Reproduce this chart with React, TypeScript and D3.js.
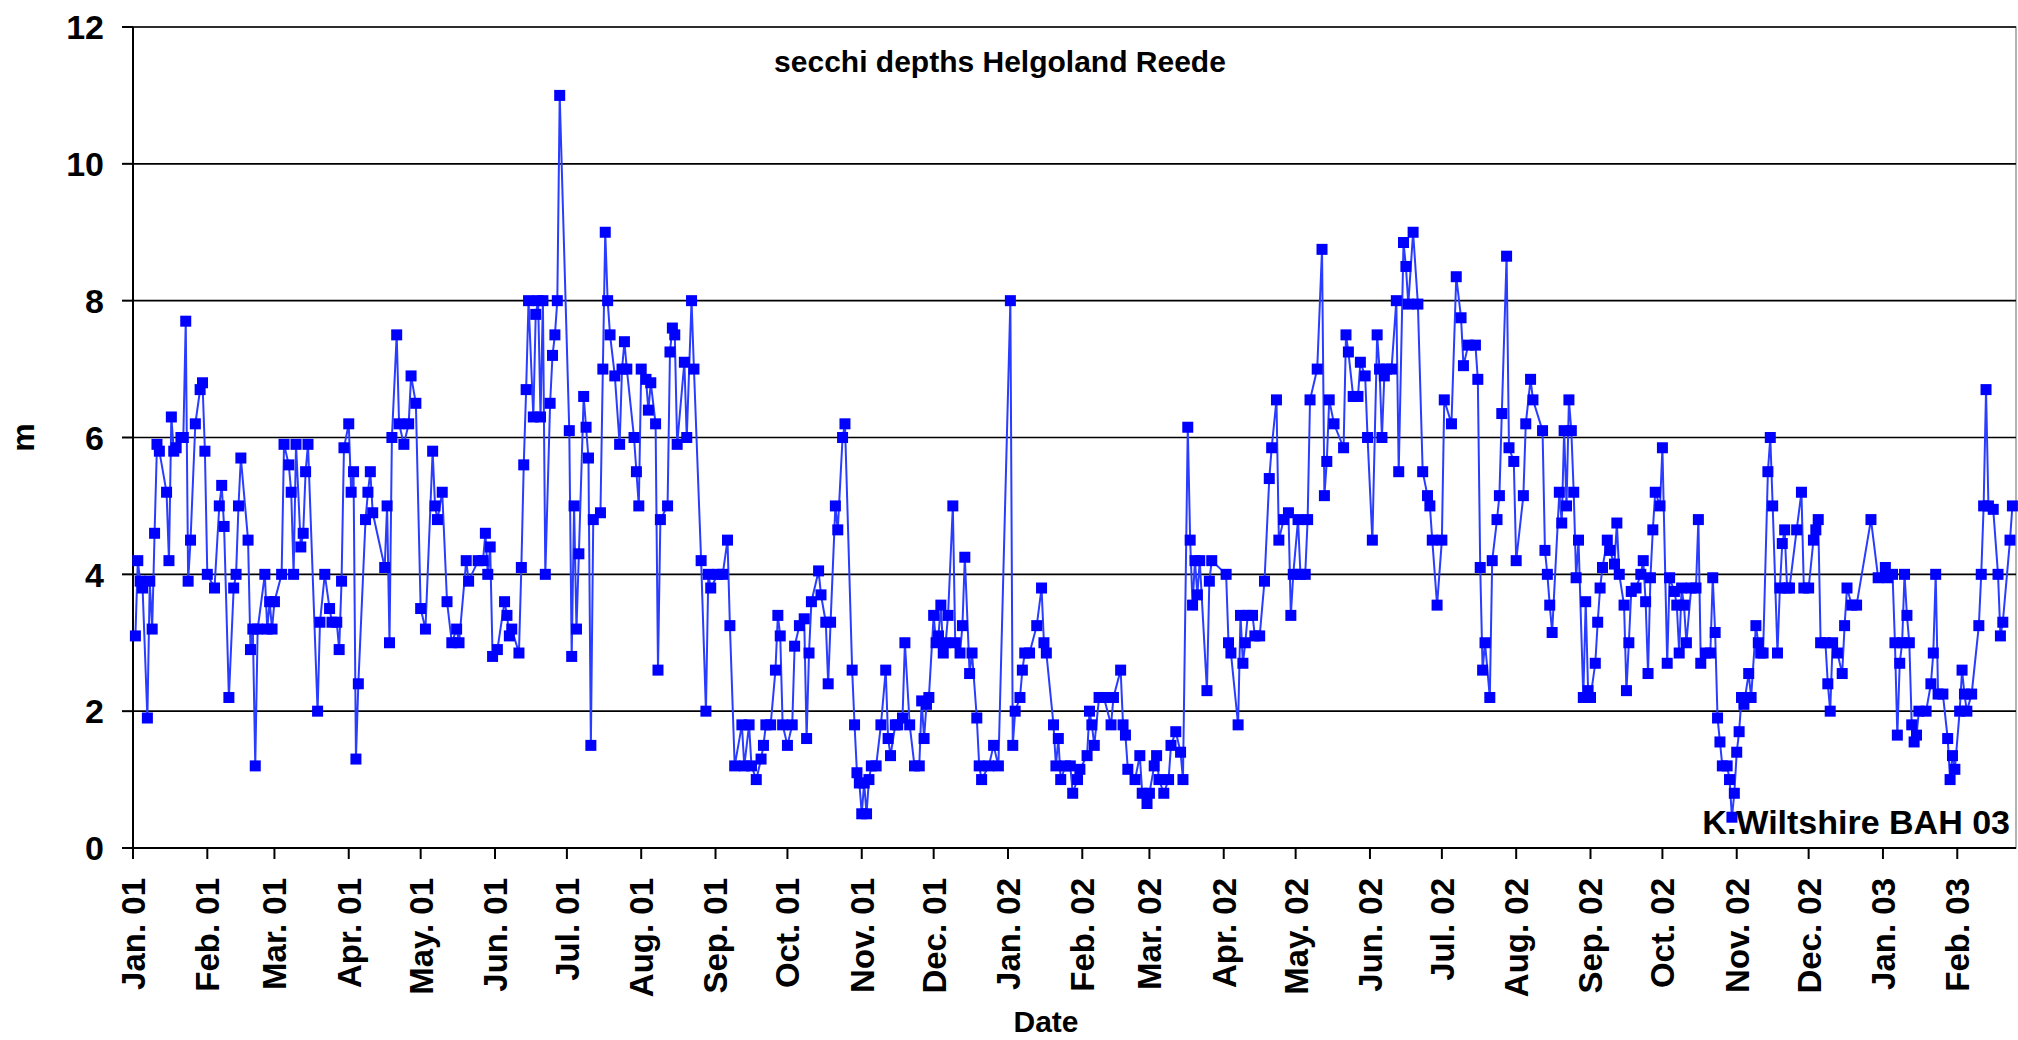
import React from 'react';
import * as d3 from 'd3';

// secchi depth readings at Helgoland Reede, metres
const secchi2001a: [string, number][] = [
  ['2001-01-02', 3.1], ['2001-01-03', 4.2], ['2001-01-04', 3.9], ['2001-01-05', 3.8], ['2001-01-07', 1.9],
  ['2001-01-08', 3.9], ['2001-01-09', 3.2], ['2001-01-10', 4.6], ['2001-01-11', 5.9], ['2001-01-12', 5.8],
  ['2001-01-15', 5.2], ['2001-01-16', 4.2], ['2001-01-17', 6.3], ['2001-01-18', 5.8], ['2001-01-19', 5.85],
  ['2001-01-21', 6.0], ['2001-01-22', 6.0], ['2001-01-23', 7.7], ['2001-01-24', 3.9], ['2001-01-25', 4.5],
  ['2001-01-27', 6.2], ['2001-01-29', 6.7], ['2001-01-30', 6.8], ['2001-01-31', 5.8],
  ['2001-02-01', 4.0], ['2001-02-04', 3.8], ['2001-02-06', 5.0], ['2001-02-07', 5.3], ['2001-02-08', 4.7],
  ['2001-02-10', 2.2], ['2001-02-12', 3.8], ['2001-02-13', 4.0], ['2001-02-14', 5.0], ['2001-02-15', 5.7],
  ['2001-02-18', 4.5], ['2001-02-19', 2.9], ['2001-02-20', 3.2], ['2001-02-21', 1.2], ['2001-02-22', 3.2],
  ['2001-02-25', 4.0], ['2001-02-26', 3.2], ['2001-02-27', 3.6], ['2001-02-28', 3.2],
  ['2001-03-01', 3.6], ['2001-03-04', 4.0], ['2001-03-05', 5.9], ['2001-03-07', 5.6], ['2001-03-08', 5.2],
  ['2001-03-09', 4.0], ['2001-03-10', 5.9], ['2001-03-12', 4.4], ['2001-03-13', 4.6], ['2001-03-14', 5.5],
  ['2001-03-15', 5.9], ['2001-03-19', 2.0], ['2001-03-20', 3.3], ['2001-03-22', 4.0], ['2001-03-24', 3.5],
  ['2001-03-25', 3.3], ['2001-03-27', 3.3], ['2001-03-28', 2.9], ['2001-03-29', 3.9], ['2001-03-30', 5.85],
  ['2001-04-01', 6.2], ['2001-04-02', 5.2], ['2001-04-03', 5.5], ['2001-04-04', 1.3], ['2001-04-05', 2.4],
  ['2001-04-08', 4.8], ['2001-04-09', 5.2], ['2001-04-10', 5.5], ['2001-04-11', 4.9], ['2001-04-16', 4.1],
  ['2001-04-17', 5.0], ['2001-04-18', 3.0], ['2001-04-19', 6.0], ['2001-04-21', 7.5], ['2001-04-22', 6.2],
  ['2001-04-24', 5.9], ['2001-04-26', 6.2], ['2001-04-27', 6.9], ['2001-04-29', 6.5],
  ['2001-05-01', 3.5], ['2001-05-03', 3.2], ['2001-05-06', 5.8], ['2001-05-07', 5.0], ['2001-05-08', 4.8],
  ['2001-05-10', 5.2], ['2001-05-12', 3.6], ['2001-05-14', 3.0], ['2001-05-16', 3.2], ['2001-05-17', 3.0],
  ['2001-05-20', 4.2], ['2001-05-21', 3.9], ['2001-05-25', 4.2], ['2001-05-27', 4.2], ['2001-05-28', 4.6],
  ['2001-05-29', 4.0], ['2001-05-30', 4.4], ['2001-05-31', 2.8],
  ['2001-06-02', 2.9], ['2001-06-05', 3.6], ['2001-06-06', 3.4], ['2001-06-07', 3.1], ['2001-06-08', 3.2],
  ['2001-06-11', 2.85], ['2001-06-12', 4.1], ['2001-06-13', 5.6], ['2001-06-14', 6.7], ['2001-06-15', 8.0],
  ['2001-06-17', 6.3], ['2001-06-18', 7.8], ['2001-06-19', 8.0], ['2001-06-20', 6.3], ['2001-06-21', 8.0],
  ['2001-06-22', 4.0], ['2001-06-24', 6.5], ['2001-06-25', 7.2], ['2001-06-26', 7.5], ['2001-06-27', 8.0],
  ['2001-06-28', 11.0],
];

const secchi2001b: [string, number][] = [
  ['2001-07-02', 6.1], ['2001-07-03', 2.8], ['2001-07-04', 5.0], ['2001-07-05', 3.2], ['2001-07-06', 4.3],
  ['2001-07-08', 6.6], ['2001-07-09', 6.15], ['2001-07-10', 5.7], ['2001-07-11', 1.5], ['2001-07-12', 4.8],
  ['2001-07-15', 4.9], ['2001-07-16', 7.0], ['2001-07-17', 9.0], ['2001-07-18', 8.0], ['2001-07-19', 7.5],
  ['2001-07-21', 6.9], ['2001-07-23', 5.9], ['2001-07-24', 7.0], ['2001-07-25', 7.4], ['2001-07-26', 7.0],
  ['2001-07-29', 6.0], ['2001-07-30', 5.5], ['2001-07-31', 5.0],
  ['2001-08-01', 7.0], ['2001-08-03', 6.85], ['2001-08-04', 6.4], ['2001-08-05', 6.8], ['2001-08-07', 6.2],
  ['2001-08-08', 2.6], ['2001-08-09', 4.8], ['2001-08-12', 5.0], ['2001-08-13', 7.25], ['2001-08-14', 7.6],
  ['2001-08-15', 7.5], ['2001-08-16', 5.9], ['2001-08-19', 7.1], ['2001-08-20', 6.0], ['2001-08-22', 8.0],
  ['2001-08-23', 7.0], ['2001-08-26', 4.2], ['2001-08-28', 2.0], ['2001-08-29', 4.0], ['2001-08-30', 3.8],
  ['2001-09-02', 4.0], ['2001-09-04', 4.0], ['2001-09-06', 4.5], ['2001-09-07', 3.25], ['2001-09-09', 1.2],
  ['2001-09-12', 1.8], ['2001-09-13', 1.2], ['2001-09-15', 1.8], ['2001-09-16', 1.2], ['2001-09-18', 1.0],
  ['2001-09-20', 1.3], ['2001-09-21', 1.5], ['2001-09-22', 1.8], ['2001-09-24', 1.8], ['2001-09-26', 2.6],
  ['2001-09-27', 3.4], ['2001-09-28', 3.1], ['2001-09-29', 1.8],
  ['2001-10-01', 1.5], ['2001-10-03', 1.8], ['2001-10-04', 2.95], ['2001-10-06', 3.25], ['2001-10-08', 3.35],
  ['2001-10-09', 1.6], ['2001-10-10', 2.85], ['2001-10-11', 3.6], ['2001-10-14', 4.05], ['2001-10-15', 3.7],
  ['2001-10-17', 3.3], ['2001-10-18', 2.4], ['2001-10-19', 3.3], ['2001-10-21', 5.0], ['2001-10-22', 4.65],
  ['2001-10-24', 6.0], ['2001-10-25', 6.2], ['2001-10-28', 2.6], ['2001-10-29', 1.8], ['2001-10-30', 1.1],
  ['2001-10-31', 0.95],
  ['2001-11-01', 0.5], ['2001-11-02', 0.95], ['2001-11-03', 0.5], ['2001-11-04', 1.0], ['2001-11-05', 1.2],
  ['2001-11-07', 1.2], ['2001-11-09', 1.8], ['2001-11-11', 2.6], ['2001-11-12', 1.6], ['2001-11-13', 1.35],
  ['2001-11-15', 1.8], ['2001-11-16', 1.8], ['2001-11-18', 1.9], ['2001-11-19', 3.0], ['2001-11-21', 1.8],
  ['2001-11-23', 1.2], ['2001-11-25', 1.2], ['2001-11-26', 2.15], ['2001-11-27', 1.6], ['2001-11-28', 2.1],
  ['2001-11-29', 2.2],
  ['2001-12-01', 3.4], ['2001-12-02', 3.0], ['2001-12-03', 3.1], ['2001-12-04', 3.55], ['2001-12-05', 2.85],
  ['2001-12-06', 3.0], ['2001-12-07', 3.4], ['2001-12-09', 5.0], ['2001-12-10', 3.0], ['2001-12-12', 2.85],
  ['2001-12-13', 3.25], ['2001-12-14', 4.25], ['2001-12-16', 2.55], ['2001-12-17', 2.85], ['2001-12-19', 1.9],
  ['2001-12-20', 1.2], ['2001-12-21', 1.0], ['2001-12-24', 1.2], ['2001-12-26', 1.5], ['2001-12-28', 1.2],
];

const secchi2002a: [string, number][] = [
  ['2002-01-02', 8.0], ['2002-01-03', 1.5], ['2002-01-04', 2.0], ['2002-01-06', 2.2], ['2002-01-07', 2.6],
  ['2002-01-08', 2.85], ['2002-01-10', 2.85], ['2002-01-13', 3.25], ['2002-01-15', 3.8], ['2002-01-16', 3.0],
  ['2002-01-17', 2.85], ['2002-01-20', 1.8], ['2002-01-21', 1.2], ['2002-01-22', 1.6], ['2002-01-23', 1.0],
  ['2002-01-25', 1.2], ['2002-01-27', 1.2], ['2002-01-28', 0.8], ['2002-01-30', 1.0], ['2002-01-31', 1.15],
  ['2002-02-03', 1.35], ['2002-02-04', 2.0], ['2002-02-05', 1.8], ['2002-02-06', 1.5], ['2002-02-08', 2.2],
  ['2002-02-10', 2.2], ['2002-02-13', 1.8], ['2002-02-14', 2.2], ['2002-02-17', 2.6], ['2002-02-18', 1.8],
  ['2002-02-19', 1.65], ['2002-02-20', 1.15], ['2002-02-23', 1.0], ['2002-02-25', 1.35], ['2002-02-26', 0.8],
  ['2002-02-28', 0.65],
  ['2002-03-01', 0.8], ['2002-03-03', 1.2], ['2002-03-04', 1.35], ['2002-03-05', 1.0], ['2002-03-07', 0.8],
  ['2002-03-09', 1.0], ['2002-03-10', 1.5], ['2002-03-12', 1.7], ['2002-03-14', 1.4], ['2002-03-15', 1.0],
  ['2002-03-17', 6.15], ['2002-03-18', 4.5], ['2002-03-19', 3.55], ['2002-03-20', 4.2], ['2002-03-21', 3.7],
  ['2002-03-22', 4.2], ['2002-03-25', 2.3], ['2002-03-26', 3.9], ['2002-03-27', 4.2],
  ['2002-04-02', 4.0], ['2002-04-03', 3.0], ['2002-04-04', 2.85], ['2002-04-07', 1.8], ['2002-04-08', 3.4],
  ['2002-04-09', 2.7], ['2002-04-10', 3.0], ['2002-04-11', 3.4], ['2002-04-13', 3.4], ['2002-04-14', 3.1],
  ['2002-04-16', 3.1], ['2002-04-18', 3.9], ['2002-04-20', 5.4], ['2002-04-21', 5.85], ['2002-04-23', 6.55],
  ['2002-04-24', 4.5], ['2002-04-26', 4.8], ['2002-04-28', 4.9], ['2002-04-29', 3.4], ['2002-04-30', 4.0],
  ['2002-05-02', 4.8], ['2002-05-03', 4.0], ['2002-05-05', 4.0], ['2002-05-06', 4.8], ['2002-05-07', 6.55],
  ['2002-05-10', 7.0], ['2002-05-12', 8.75], ['2002-05-13', 5.15], ['2002-05-14', 5.65], ['2002-05-15', 6.55],
  ['2002-05-17', 6.2], ['2002-05-21', 5.85], ['2002-05-22', 7.5], ['2002-05-23', 7.25], ['2002-05-25', 6.6],
  ['2002-05-27', 6.6], ['2002-05-28', 7.1], ['2002-05-30', 6.9], ['2002-05-31', 6.0],
  ['2002-06-02', 4.5], ['2002-06-04', 7.5], ['2002-06-05', 7.0], ['2002-06-06', 6.0], ['2002-06-07', 6.9],
  ['2002-06-08', 7.0], ['2002-06-10', 7.0], ['2002-06-12', 8.0], ['2002-06-13', 5.5], ['2002-06-15', 8.85],
  ['2002-06-16', 8.5], ['2002-06-17', 7.95], ['2002-06-19', 9.0], ['2002-06-21', 7.95], ['2002-06-23', 5.5],
  ['2002-06-25', 5.15], ['2002-06-26', 5.0], ['2002-06-27', 4.5], ['2002-06-29', 3.55],
];

const secchi2002b: [string, number][] = [
  ['2002-07-01', 4.5], ['2002-07-02', 6.55], ['2002-07-05', 6.2], ['2002-07-07', 8.35], ['2002-07-09', 7.75],
  ['2002-07-10', 7.05], ['2002-07-12', 7.35], ['2002-07-15', 7.35], ['2002-07-16', 6.85], ['2002-07-17', 4.1],
  ['2002-07-18', 2.6], ['2002-07-19', 3.0], ['2002-07-21', 2.2], ['2002-07-22', 4.2], ['2002-07-24', 4.8],
  ['2002-07-25', 5.15], ['2002-07-26', 6.35], ['2002-07-28', 8.65], ['2002-07-29', 5.85], ['2002-07-31', 5.65],
  ['2002-08-01', 4.2], ['2002-08-04', 5.15], ['2002-08-05', 6.2], ['2002-08-07', 6.85], ['2002-08-08', 6.55],
  ['2002-08-12', 6.1], ['2002-08-13', 4.35], ['2002-08-14', 4.0], ['2002-08-15', 3.55], ['2002-08-16', 3.15],
  ['2002-08-19', 5.2], ['2002-08-20', 4.75], ['2002-08-21', 6.1], ['2002-08-22', 5.0], ['2002-08-23', 6.55],
  ['2002-08-24', 6.1], ['2002-08-25', 5.2], ['2002-08-26', 3.95], ['2002-08-27', 4.5], ['2002-08-29', 2.2],
  ['2002-08-30', 3.6], ['2002-08-31', 2.3],
  ['2002-09-01', 2.2], ['2002-09-03', 2.7], ['2002-09-04', 3.3], ['2002-09-05', 3.8], ['2002-09-06', 4.1],
  ['2002-09-08', 4.5], ['2002-09-09', 4.35], ['2002-09-11', 4.15], ['2002-09-12', 4.75], ['2002-09-13', 4.0],
  ['2002-09-15', 3.55], ['2002-09-16', 2.3], ['2002-09-17', 3.0], ['2002-09-18', 3.75], ['2002-09-20', 3.8],
  ['2002-09-22', 4.0], ['2002-09-23', 4.2], ['2002-09-24', 3.6], ['2002-09-25', 2.55], ['2002-09-26', 3.95],
  ['2002-09-27', 4.65], ['2002-09-28', 5.2], ['2002-09-30', 5.0],
  ['2002-10-01', 5.85], ['2002-10-03', 2.7], ['2002-10-04', 3.95], ['2002-10-06', 3.75], ['2002-10-07', 3.55],
  ['2002-10-08', 2.85], ['2002-10-09', 3.8], ['2002-10-10', 3.55], ['2002-10-11', 3.0], ['2002-10-13', 3.8],
  ['2002-10-15', 3.8], ['2002-10-16', 4.8], ['2002-10-17', 2.7], ['2002-10-19', 2.85], ['2002-10-21', 2.85],
  ['2002-10-22', 3.95], ['2002-10-23', 3.15], ['2002-10-24', 1.9], ['2002-10-25', 1.55], ['2002-10-26', 1.2],
  ['2002-10-28', 1.2], ['2002-10-29', 1.0], ['2002-10-30', 0.45], ['2002-10-31', 0.8],
  ['2002-11-01', 1.4], ['2002-11-02', 1.7], ['2002-11-03', 2.2], ['2002-11-04', 2.1], ['2002-11-06', 2.55],
  ['2002-11-07', 2.2], ['2002-11-09', 3.25], ['2002-11-10', 3.0], ['2002-11-11', 2.85], ['2002-11-12', 2.85],
  ['2002-11-14', 5.5], ['2002-11-15', 6.0], ['2002-11-16', 5.0], ['2002-11-18', 2.85], ['2002-11-19', 3.8],
  ['2002-11-20', 4.45], ['2002-11-21', 4.65], ['2002-11-22', 3.8], ['2002-11-23', 3.8], ['2002-11-26', 4.65],
  ['2002-11-28', 5.2], ['2002-11-29', 3.8],
  ['2002-12-01', 3.8], ['2002-12-03', 4.5], ['2002-12-04', 4.65], ['2002-12-05', 4.8], ['2002-12-06', 3.0],
  ['2002-12-08', 3.0], ['2002-12-09', 2.4], ['2002-12-10', 2.0], ['2002-12-11', 3.0], ['2002-12-13', 2.85],
  ['2002-12-15', 2.55], ['2002-12-16', 3.25], ['2002-12-17', 3.8], ['2002-12-19', 3.55], ['2002-12-21', 3.55],
  ['2002-12-27', 4.8], ['2002-12-30', 3.95],
];

const secchi2003: [string, number][] = [
  ['2003-01-02', 4.1], ['2003-01-03', 3.95], ['2003-01-05', 4.0], ['2003-01-06', 3.0], ['2003-01-07', 1.65],
  ['2003-01-08', 2.7], ['2003-01-09', 3.0], ['2003-01-10', 4.0], ['2003-01-11', 3.4], ['2003-01-12', 3.0],
  ['2003-01-13', 1.8], ['2003-01-14', 1.55], ['2003-01-15', 1.65], ['2003-01-16', 2.0], ['2003-01-19', 2.0],
  ['2003-01-21', 2.4], ['2003-01-22', 2.85], ['2003-01-23', 4.0], ['2003-01-24', 2.25], ['2003-01-26', 2.25],
  ['2003-01-28', 1.6], ['2003-01-29', 1.0], ['2003-01-30', 1.35], ['2003-01-31', 1.15],
  ['2003-02-02', 2.0], ['2003-02-03', 2.6], ['2003-02-04', 2.25], ['2003-02-05', 2.0], ['2003-02-07', 2.25],
  ['2003-02-10', 3.25], ['2003-02-11', 4.0], ['2003-02-12', 5.0], ['2003-02-13', 6.7], ['2003-02-14', 5.0],
  ['2003-02-16', 4.95], ['2003-02-18', 4.0], ['2003-02-19', 3.1], ['2003-02-20', 3.3], ['2003-02-23', 4.5],
  ['2003-02-24', 5.0],
];

const yTicks = [0, 2, 4, 6, 8, 10, 12];
const chartTitle = 'secchi depths Helgoland Reede';
const creditText = 'K.Wiltshire BAH 03';

const width = 2018;
const height = 1040;
const margin = {top: 27, right: 2, bottom: 192, left: 133};
const font = '"Liberation Sans", Arial, Helvetica, sans-serif';

function SecchiChart() {
  const parse = d3.utcParse('%Y-%m-%d');
  const data = [...secchi2001a, ...secchi2001b, ...secchi2002a, ...secchi2002b, ...secchi2003]
    .map(([d, v]) => ({date: parse(d) as Date, value: v}));

  const start = new Date(Date.UTC(2001, 0, 1));
  const end = new Date(Date.UTC(2003, 1, 25, 12));

  const x = d3.scaleUtc().domain([start, end]).range([margin.left, width - margin.right]);
  const y = d3.scaleLinear().domain([0, 12]).range([height - margin.bottom, margin.top]);

  const months = d3.utcMonth.range(start, end);
  const fmt = d3.utcFormat('%b. %y');

  const line = d3.line<{date: Date, value: number}>()
    .x((d) => x(d.date))
    .y((d) => y(d.value));

  const x0 = margin.left;
  const x1 = width - margin.right;
  const yBase = y(0);
  const mk = 11;

  return (
    <svg width={width} height={height} style={{display: 'block', background: '#fff'}}>
      {/* plot area border */}
      <rect x={x0} y={y(12)} width={x1 - x0} height={yBase - y(12)} fill="#fff" stroke="#9a9a9a" strokeWidth={1.5}/>

      {/* gridlines */}
      {yTicks.filter((t) => t > 0).map((t) => (
        <line key={'g' + t} x1={x0} x2={x1} y1={y(t)} y2={y(t)} stroke="#000" strokeWidth={1.6}/>
      ))}

      {/* y axis */}
      <line x1={x0} x2={x0} y1={y(12)} y2={yBase} stroke="#000" strokeWidth={2}/>
      {yTicks.map((t) => (
        <g key={'yt' + t}>
          <line x1={x0 - 11} x2={x0} y1={y(t)} y2={y(t)} stroke="#000" strokeWidth={2}/>
          <text x={104} y={y(t)} dy="0.36em" textAnchor="end" fontFamily={font} fontWeight="bold" fontSize={34}>{t}</text>
        </g>
      ))}

      {/* x axis */}
      <line x1={x0 - 11} x2={x1} y1={yBase} y2={yBase} stroke="#000" strokeWidth={2}/>
      {months.map((m) => (
        <g key={'xt' + m.getTime()}>
          <line x1={x(m)} x2={x(m)} y1={yBase} y2={yBase + 11} stroke="#000" strokeWidth={2}/>
          <text transform={`translate(${x(m)}, ${yBase + 30}) rotate(-90)`} dy="0.36em" textAnchor="end"
                fontFamily={font} fontWeight="bold" fontSize={33}>{fmt(m)}</text>
        </g>
      ))}

      {/* series */}
      <path d={line(data) || ''} fill="none" stroke="#2a3cff" strokeWidth={2}/>
      {data.map((d, i) => (
        <rect key={i} x={x(d.date) - mk / 2} y={y(d.value) - mk / 2} width={mk} height={mk} fill="#0000ff"/>
      ))}

      {/* labels */}
      <text x={1000} y={72} textAnchor="middle" fontFamily={font} fontWeight="bold" fontSize={30}>{chartTitle}</text>
      <text x={2010} y={834} textAnchor="end" fontFamily={font} fontWeight="bold" fontSize={34}>{creditText}</text>
      <text x={1046} y={1032} textAnchor="middle" fontFamily={font} fontWeight="bold" fontSize={30}>Date</text>
      <text transform={`translate(34, ${(y(12) + yBase) / 2}) rotate(-90)`} textAnchor="middle" fontFamily={font}
            fontWeight="bold" fontSize={32}>m</text>
    </svg>
  );
}

export default function App() {
  return (
    <div style={{position: 'absolute', left: 0, top: 0}}>
      <SecchiChart/>
    </div>
  );
}
